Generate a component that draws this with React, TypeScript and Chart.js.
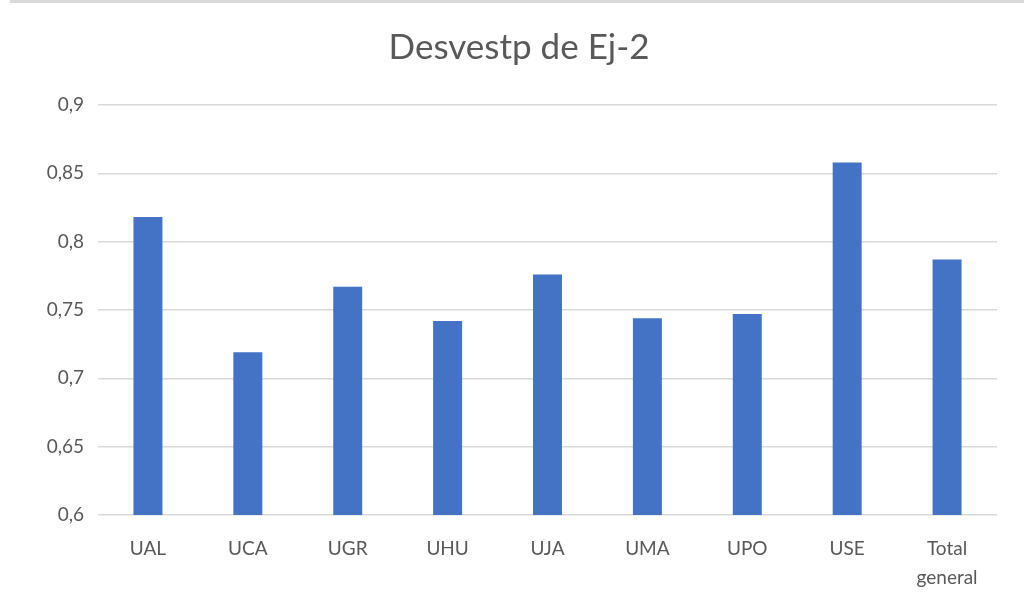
import React, { useEffect, useRef } from "react";
import { Chart, registerables } from "chart.js";

Chart.register(...registerables);

const categories: (string | string[])[] = ["UAL", "UCA", "UGR", "UHU", "UJA", "UMA", "UPO", "USE", ["Total", "general"]];
const values: number[] = [0.818, 0.719, 0.767, 0.742, 0.776, 0.744, 0.747, 0.858, 0.787];
const titleText = "Desvestp de Ej-2";
const yMin = 0.6;
const yMax = 0.9;
const yStep = 0.05;

const FONT = "Lato, 'Open Sans', sans-serif";

export default function App() {
  const ref = useRef<HTMLCanvasElement | null>(null);
  useEffect(() => {
    if (!ref.current) return;
    const deco = {
      id: "deco",
      beforeDraw(chart: any) {
        const ctx = chart.ctx;
        ctx.save();
        ctx.fillStyle = "#ffffff";
        ctx.fillRect(0, 0, chart.width, chart.height);
        ctx.fillStyle = "#d9d9d9";
        ctx.fillRect(10, 0, chart.width - 10, 3);
        ctx.restore();
      },
      afterDraw(chart: any) {
        const ctx = chart.ctx;
        ctx.save();
        ctx.fillStyle = "#595959";
        ctx.font = `normal 35px ${FONT}`;
        ctx.textAlign = "center";
        ctx.textBaseline = "middle";
        ctx.fillText(titleText, 519, 48);
        ctx.restore();
      },
    };
    const chart = new Chart(ref.current, {
      type: "bar",
      data: {
        labels: categories,
        datasets: [
          {
            data: values,
            backgroundColor: "#4472C4",
            barPercentage: 0.29,
            categoryPercentage: 1,
          },
        ],
      },
      options: {
        responsive: false,
        animation: false,
        layout: { padding: { left: 0, right: 27, top: 105, bottom: 0 } },
        plugins: {
          legend: { display: false },
          tooltip: { enabled: false },
          title: { display: false },
        },
        scales: {
          x: {
            grid: { display: false, drawTicks: false },
            border: { display: false },
            ticks: {
              color: "#595959",
              font: { family: FONT, size: 19, lineHeight: 1.5 },
              padding: 20,
              maxRotation: 0,
              autoSkip: false,
            },
            afterFit(scale: any) {
              scale.height = 86;
            },
          },
          y: {
            min: yMin,
            max: yMax,
            grid: { color: "#d9d9d9", lineWidth: 1.5, drawTicks: false },
            border: { display: false },
            ticks: {
              stepSize: yStep,
              color: "#595959",
              font: { family: FONT, size: 19 },
              padding: 14,
              callback: (v: any) => String(Math.round(Number(v) * 100) / 100).replace(".", ","),
            },
            afterFit(scale: any) {
              scale.width = 98;
            },
          },
        },
      },
      plugins: [deco],
    });
    return () => chart.destroy();
  }, []);
  return (
    <div style={{ position: "absolute", left: 0, top: 0, width: 1024, height: 601 }}>
      <canvas ref={ref} width={1024} height={601} style={{ display: "block" }} />
    </div>
  );
}
